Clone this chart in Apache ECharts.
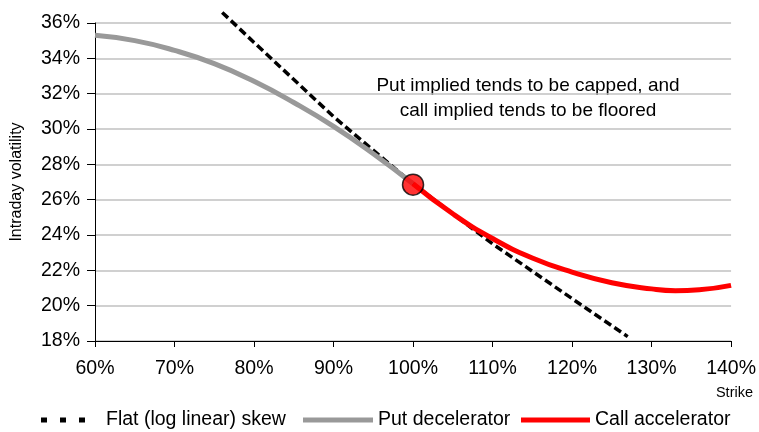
<!DOCTYPE html>
<html><head><meta charset="utf-8">
<script src="https://cdn.jsdelivr.net/npm/echarts@6/dist/echarts.min.js"></script>
<style>html,body{margin:0;padding:0;background:#fff}#c{width:759px;height:432px}</style>
</head><body><div id="c"></div>
<script>
const seriesNames = ['Flat (log linear) skew', 'Put decelerator', 'Call accelerator'];
const flatStrike = [76, 80, 90, 100, 110, 120, 127];
const flatVol = [36.6, 34.9, 30.7, 26.9, 23.5, 20.4, 18.25];
const putStrike = [60, 65, 70, 75, 80, 85, 90, 95, 100];
const putVol = [35.3, 35.0, 34.45, 33.7, 32.7, 31.5, 30.15, 28.6, 26.9];
const callStrike = [100, 105, 110, 115, 120, 125, 130, 133, 136, 140];
const callVol = [26.9, 25.2, 23.8, 22.7, 21.9, 21.3, 20.95, 20.85, 20.9, 21.15];
const atmPoint = [100, 26.85];
const xTicks = {min: 60, max: 140, step: 10};
const yTicks = {min: 18, max: 36, step: 2};
const annotation = ['Put implied tends to be capped, and', 'call implied tends to be floored'];
const xAxisTitle = 'Strike';
const yAxisTitle = 'Intraday volatility';

const zip = (a, b) => a.map((v, i) => [v, b[i]]);
const font = 'Liberation Sans, Arial, sans-serif';
const chart = echarts.init(document.getElementById('c'));
const legendBase = {
  top: 410, itemHeight: 5, textStyle: {fontFamily: font, fontSize: 19.5, color: '#000'},
  selectedMode: false, padding: 0
};
chart.setOption({
  animation: false,
  grid: {left: 95, right: 26, top: 23, bottom: 91},
  xAxis: {
    type: 'value', min: xTicks.min, max: xTicks.max, interval: xTicks.step,
    axisLine: {lineStyle: {color: '#000', width: 1}},
    axisTick: {show: true, length: 6, lineStyle: {color: '#000'}},
    splitLine: {show: false},
    axisLabel: {formatter: '{value}%', fontFamily: font, fontSize: 19.5, color: '#000', margin: 18}
  },
  yAxis: {
    type: 'value', min: yTicks.min, max: yTicks.max, interval: yTicks.step,
    axisLine: {show: true, lineStyle: {color: '#000', width: 1}},
    axisTick: {show: true, length: 8, lineStyle: {color: '#000'}},
    splitLine: {show: true, lineStyle: {color: '#c0c0c0', width: 1.5}},
    axisLabel: {formatter: '{value}%', fontFamily: font, fontSize: 19.5, color: '#000', margin: 15},
    name: yAxisTitle, nameLocation: 'middle', nameGap: 70, nameRotate: 90,
    nameTextStyle: {fontFamily: font, fontSize: 16, color: '#000'}
  },
  legend: [
    Object.assign({}, legendBase, {left: 41, data: [{name: seriesNames[0], icon: 'path://M0,0h6v5h-6z M19,0h6v5h-6z M38,0h6v5h-6z'}],
      itemWidth: 44, textStyle: Object.assign({}, legendBase.textStyle, {padding: [0, 0, 0, 16]})}),
    Object.assign({}, legendBase, {left: 303, data: [{name: seriesNames[1], icon: 'rect'}], itemWidth: 70}),
    Object.assign({}, legendBase, {left: 521, data: [{name: seriesNames[2], icon: 'rect'}], itemWidth: 69})
  ],
  graphic: [
    {type: 'text', x: 528, y: 73,
     style: {text: annotation.join('\n'), font: '19px ' + font, fill: '#000', align: 'center', verticalAlign: 'top', lineHeight: 25}},
    {type: 'text', x: 753, y: 393,
     style: {text: xAxisTitle, font: '14.5px ' + font, fill: '#000', align: 'right', verticalAlign: 'middle'}}
  ],
  series: [
    {name: seriesNames[0], type: 'line', data: zip(flatStrike, flatVol), showSymbol: false, symbol: 'none', clip: false,
     lineStyle: {color: '#000', width: 3.5, type: [8, 4]}, itemStyle: {color: '#000'}, z: 2},
    {name: seriesNames[1], type: 'line', data: zip(putStrike, putVol), smooth: true, showSymbol: false, symbol: 'none',
     lineStyle: {color: '#999999', width: 5}, itemStyle: {color: '#999999'}, z: 3},
    {name: seriesNames[2], type: 'line', data: zip(callStrike, callVol), smooth: true, showSymbol: false, symbol: 'none',
     lineStyle: {color: '#ff0000', width: 5}, itemStyle: {color: '#ff0000'}, z: 4},
    {name: 'ATM', type: 'scatter', data: [atmPoint], symbolSize: 21,
     itemStyle: {color: '#ff0000', borderColor: '#000', borderWidth: 1.5}, z: 5}
  ]
});
</script></body></html>
